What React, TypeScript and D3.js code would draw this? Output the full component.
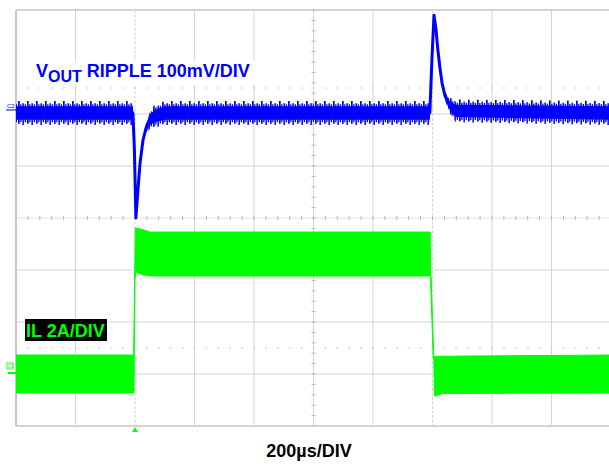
import React from "react";
import * as d3 from "d3";

// ---- data (time in µs, 200 µs/div; blue in mV rel. to C2 ground; green in A rel. to C1 ground) ----
const timeDivs = [0, 200, 400, 600, 800, 1000, 1200, 1400, 1600, 1800, 2000];
const solidRows = [0, 2, 3, 5, 6, 7, 8];
const centerRow = [4];
const dottedRows = [1.5, 6.5];

const blueT = [0, 393, 398, 403, 410, 417, 427, 437, 450, 467, 500, 1391, 1398, 1405, 1412, 1418, 1425, 1432, 1442, 1459, 1479, 2000];
const blueMv = [0, 0, -71, -202, -148, -96, -52, -29, -13, -6, 0, 0, 102, 188, 160, 121, 87, 58, 33, 13, 4, 0];
const blueRipple = [23, 23, 0, 0, 0, 2, 5, 11, 18, 22, 23, 23, 0, 0, 2, 3, 4, 5, 9, 16, 22, 23];
const blueCore = [13, 13, 0, 0, 0, 1, 3, 6, 10, 12, 13, 13, 0, 0, 1, 2, 2, 3, 5, 9, 12, 13];

const greenUpperT = [0, 395.5, 401, 424, 450, 1392.4, 1393.1, 1402.5, 1406, 2000];
const greenUpperA = [0.73, 0.73, 5.62, 5.56, 5.46, 5.46, 3.77, 0.62, 0.68, 0.73];
const greenLowerT = [0, 396.5, 399.5, 403, 424, 450, 1395.1, 1404.5, 1406.5, 1416, 1433, 2000];
const greenLowerA = [-0.73, -0.73, 3.6, 3.92, 3.82, 3.77, 3.77, 0.54, -0.85, -0.82, -0.75, -0.73];

const triggerT = 400;
const blueLabelMain = "V";
const blueLabelSub = "OUT";
const blueLabelRest = " RIPPLE 100mV/DIV";
const greenLabel = "IL 2A/DIV";
const timeLabel = "200µs/DIV";

const W = 609;
const H = 466;
const L = 16, R = 611, T = 10, B = 426;

export default function App() {
  const x = d3.scaleLinear().domain([0, 2000]).range([L, R]);
  const yDiv = d3.scaleLinear().domain([0, 8]).range([T, B]);
  const yBlue = d3.scaleLinear().domain([-602, 198]).range([B, T]);
  const yGreen = d3.scaleLinear().domain([-2, 14]).range([B, T]);

  const BLUE = "#0000ff";
  const GREEN = "#00ff00";

  const idx = blueT.map((_, i) => i);
  const blueLine = d3.line<number>().x((i) => x(blueT[i])).y((i) => yBlue(blueMv[i]))(idx) || "";
  const areaOf = (hw: number[], kTop: number, kBot: number) =>
    d3
      .area<number>()
      .x((i) => x(blueT[i]))
      .y0((i) => yBlue(blueMv[i] - hw[i] * kBot))
      .y1((i) => yBlue(blueMv[i] + hw[i] * kTop))(idx) || "";

  const upperPts: [number, number][] = greenUpperT.map((t, i) => [x(t), yGreen(greenUpperA[i])]);
  const lowerPts: [number, number][] = greenLowerT.map((t, i) => [x(t), yGreen(greenLowerA[i])]);
  const greenPath = (d3.line()([...upperPts, ...lowerPts.reverse()]) || "") + "Z";

  const hTicks = d3.range(0, 2000.1, 40);
  const vTicks = d3.range(0, 8.01, 0.2);
  const grid = "#d4d4d4";

  const fontFam = "'Liberation Sans', Arial, sans-serif";

  return (
    <svg width={W} height={H} style={{ position: "absolute", left: 0, top: 0, background: "#fff" }}>
      <defs>
        <pattern id="stripA" patternUnits="userSpaceOnUse" width="9" height="10">
          <rect x="0" y="0" width="1.7" height="10" fill={BLUE} />
        </pattern>
        <pattern id="stripB" patternUnits="userSpaceOnUse" width="9" height="10">
          <rect x="4.4" y="0" width="1.5" height="10" fill={BLUE} />
        </pattern>
        <pattern id="stripC" patternUnits="userSpaceOnUse" width="9" height="10">
          <rect x="2.2" y="0" width="1.3" height="10" fill={BLUE} />
          <rect x="6.7" y="0" width="1.3" height="10" fill={BLUE} />
        </pattern>
        <clipPath id="plot">
          <rect x={L} y={T} width={R - L} height={B - T} />
        </clipPath>
      </defs>
      <rect x={0} y={0} width={W} height={H} fill="#fff" />

      {/* grid */}
      {timeDivs.slice(1).map((t) => (
        <line key={"v" + t} x1={x(t)} x2={x(t)} y1={T} y2={B} stroke={grid} strokeWidth={1} strokeDasharray={t === 400 || t === 1400 ? "3 1.5" : undefined} />
      ))}
      {solidRows.map((r) => (
        <line key={"h" + r} x1={L} x2={W} y1={yDiv(r)} y2={yDiv(r)} stroke={grid} strokeWidth={r === 0 || r === 8 ? 2 : 1} />
      ))}
      {centerRow.map((r) => (
        <line key={"c" + r} x1={L} x2={W} y1={yDiv(r)} y2={yDiv(r)} stroke="#e2e2e2" strokeWidth={1} />
      ))}
      {centerRow.map((r) =>
        hTicks.map((t) => (
          <line key={"ct" + r + "_" + t} x1={x(t)} x2={x(t)} y1={yDiv(r) - 2} y2={yDiv(r) + 2} stroke="#b8b8b8" strokeWidth={1} />
        ))
      )}
      {dottedRows.map((r) =>
        hTicks.map((t) => (
          <line key={"d" + r + "_" + t} x1={x(t) - 1} x2={x(t) + 1} y1={yDiv(r)} y2={yDiv(r)} stroke="#c4c4c4" strokeWidth={1} />
        ))
      )}
      {vTicks.map((d) => (
        <line key={"vt" + d} x1={x(1000) - 2} x2={x(1000) + 2} y1={yDiv(d)} y2={yDiv(d)} stroke="#b8b8b8" strokeWidth={1} />
      ))}
      <line x1={L} x2={L} y1={T} y2={B} stroke="#c8c8c8" strokeWidth={2} />

      {/* traces */}
      <g clipPath="url(#plot)">
        <path d={greenPath} fill={GREEN} stroke={GREEN} strokeWidth={1} />
        <path d={areaOf(blueRipple, 1, 0.9)} fill="url(#stripA)" />
        <path d={areaOf(blueRipple, 0.82, 1)} fill="url(#stripB)" />
        <path d={areaOf(blueRipple, 0.72, 0.78)} fill="url(#stripC)" />
        <path d={areaOf(blueCore, 1, 1)} fill={BLUE} />
        <path d={blueLine} fill="none" stroke={BLUE} strokeWidth={3} strokeLinejoin="round" />
      </g>

      {/* trigger marker */}
      <path d={`M${x(triggerT)},${B + 1} l3,5 l-6,0 Z`} fill={GREEN} />

      {/* channel markers */}
      <text x={7} y={108} fontSize={6} fill={BLUE} fontFamily={fontFam}>C2</text>
      <line x1={6} x2={16} y1={yBlue(0) - 3} y2={yBlue(0) - 3} stroke={BLUE} strokeWidth={1} />
      <rect x={7} y={363} width={6} height={6} fill="none" stroke={GREEN} strokeWidth={0.8} />
      <text x={8} y={368} fontSize={4.5} fill={GREEN} fontFamily={fontFam}>C1</text>
      <line x1={8} x2={16} y1={yGreen(0) - 1} y2={yGreen(0) - 1} stroke={GREEN} strokeWidth={2} />

      {/* labels */}
      <rect x={34} y={61} width={224} height={24} fill="#fff" />
      <text x={36} y={77} fontSize={18} fontWeight="bold" fill={BLUE} fontFamily={fontFam}>
        {blueLabelMain}
        <tspan dy={5} fontSize={16}>{blueLabelSub}</tspan>
        <tspan dy={-5} fontSize={18}>{blueLabelRest}</tspan>
      </text>
      <rect x={25} y={319} width={82} height={22} fill="#000" />
      <text x={26} y={337} fontSize={18} fontWeight="bold" fill={GREEN} fontFamily={fontFam}>{greenLabel}</text>
      <text x={309} y={457} fontSize={18} fontWeight="bold" fill="#000" textAnchor="middle" fontFamily={fontFam}>{timeLabel}</text>
    </svg>
  );
}
